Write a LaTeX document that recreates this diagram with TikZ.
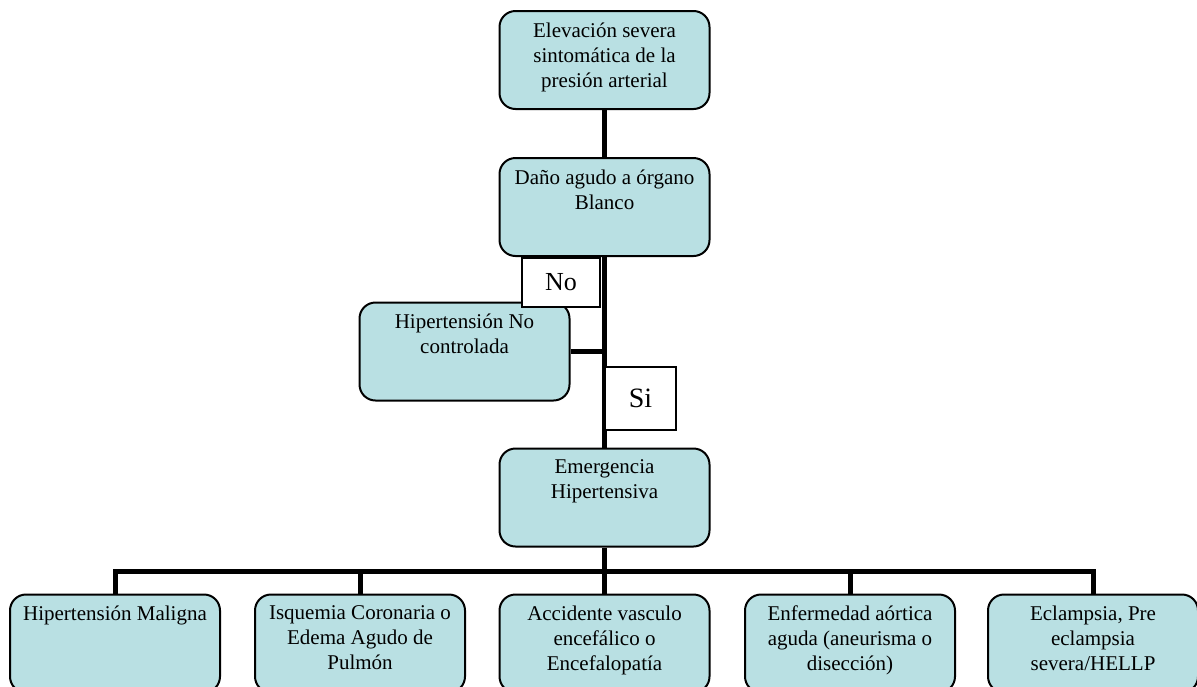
\documentclass[tikz,border=0pt]{standalone}
\usepackage{fontspec}
\setmainfont{Liberation Serif}
\usepackage{tikz}
\usetikzlibrary{backgrounds}

\definecolor{boxfill}{RGB}{185,224,227}
\newcommand{\boxtext}[1]{\parbox[c][41pt][t]{100pt}{\vspace*{1.75pt}\centering #1}}

\begin{document}
\begin{tikzpicture}[x=0.5pt, y=-0.5pt,
		box/.style={draw, line width=1pt, rounded corners=8pt, fill=boxfill,
			inner xsep=2.5pt, inner ysep=4pt, font=\fontsize{10.5}{12.5}\selectfont},
		answer/.style={draw, line width=0.75pt, fill=white, inner sep=0pt},
		link/.style={line width=2.5pt}]
	\useasboundingbox (0,0) rectangle (1197,686);
	\clip (0,0) rectangle (1197,686);

		\path (604.5,60) node[box] (elev) {\boxtext{Elevación severa\\ sintomática de la\\ presión arterial}}
		(604.5,207) node[box] (dano) {\boxtext{Daño agudo a órgano\\ Blanco}}
		(464.5,351.5) node[box] (hnc) {\boxtext{Hipertensión No\\ controlada}}
		(604.5,497.5) node[box] (emerg) {\boxtext{Emergencia\\ Hipertensiva}}
		(561,282.5) node[answer, minimum width=39pt, minimum height=24.5pt, font=\fontsize{13}{15}\selectfont] (no) {No}
		(640.5,398.5) node[answer, minimum width=35.5pt, minimum height=31.5pt, font=\fontsize{14}{16}\selectfont] (si) {Si};

		\path (115,643.5) node[box] (maligna) {\boxtext{Hipertensión Maligna}}
		(360,643.5) node[box] (isquemia) {\boxtext{Isquemia Coronaria o\\ Edema Agudo de\\ Pulmón}}
		(604.5,643.5) node[box] (acv) {\boxtext{Accidente vasculo\\ encefálico o\\ Encefalopatía}}
		(850,643.5) node[box] (aorta) {\boxtext{Enfermedad aórtica\\ aguda (aneurisma o\\ disección)}}
		(1093,643.5) node[box] (eclampsia) {\boxtext{Eclampsia, Pre\\ eclampsia\\ severa/HELLP}};

		\coordinate (bus) at (604.5,571.5);

		\begin{scope}[on background layer]
		\draw[link] (elev) -- (dano)
		(dano) -- (emerg)
		(hnc.east) -- (hnc.east -| dano.south)
		(emerg) -- (acv)
		(maligna.north) |- (bus) -| (eclampsia.north)
		(isquemia.north) -- (isquemia.north |- bus)
		(aorta.north) -- (aorta.north |- bus);
		\end{scope}

	\end{tikzpicture}
\end{document}
